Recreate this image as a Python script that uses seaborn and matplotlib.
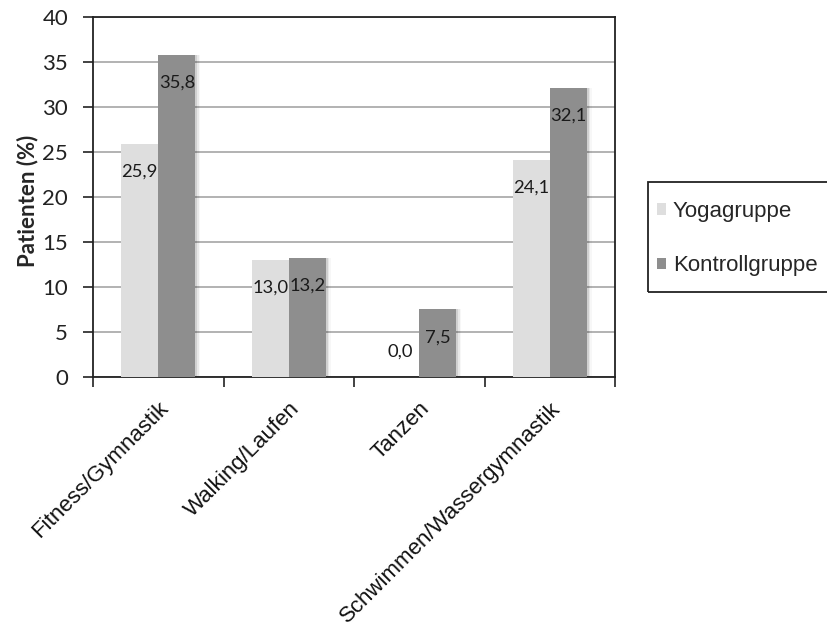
import matplotlib
matplotlib.use("Agg")
import matplotlib.pyplot as plt
from matplotlib.patches import Rectangle
import seaborn as sns
import pandas as pd

categories = ["Fitness/Gymnastik", "Walking/Laufen", "Tanzen", "Schwimmen/Wassergymnastik"]
groups = ["Yogagruppe", "Kontrollgruppe"]
yoga = [25.9, 13.0, 0.0, 24.1]
kontroll = [35.8, 13.2, 7.5, 32.1]
colors = ["#dedede", "#8e8e8e"]

df = pd.DataFrame({
    "Sportart": categories * 2,
    "Gruppe": [groups[0]] * len(categories) + [groups[1]] * len(categories),
    "Wert": yoga + kontroll,
})

sns.set_theme(style="white")
plt.rcParams["font.family"] = ["Liberation Sans", "DejaVu Sans"]

W, H = 827, 630
fig = plt.figure(figsize=(W / 100, H / 100), dpi=100)
ax = fig.add_axes([0.1125, 0.4016, 0.6312, 0.5714])

sns.barplot(data=df, x="Sportart", y="Wert", hue="Gruppe", order=categories,
            hue_order=groups, palette=colors, width=0.57, saturation=1,
            edgecolor="none", linewidth=0, ax=ax, legend=False, zorder=3)

# soft shadow to the right of each bar
for p in list(ax.patches):
    for i, a in enumerate([0.10, 0.06, 0.03]):
        off = 0.012 * (i + 1)
        ax.bar(p.get_x() + p.get_width() / 2 + off, p.get_height(), width=p.get_width(),
               color="#000000", alpha=a, zorder=2, linewidth=0)

ax.set_ylim(0, 40)
ax.set_xlim(-0.5, len(categories) - 0.5)
ax.set_yticks(range(0, 41, 5))
ax.yaxis.grid(True, color="#a6a6a6", linewidth=1.2, zorder=0)
ax.set_axisbelow(True)
for s in ax.spines.values():
    s.set_color("#222222")
    s.set_linewidth(1.3)

ax.set_xlabel("")
ax.set_ylabel("Patienten (%)", fontsize=16, fontweight="bold",
              family=["Lato", "DejaVu Sans"])
ax.yaxis.set_label_coords(-0.105, 0.49)
ax.tick_params(axis="y", which="major", direction="out", length=7, width=1.2,
               color="#222222", labelsize=16, pad=11, left=True)
for t in ax.get_yticklabels():
    t.set_family(["Lato", "DejaVu Sans"])
    t.set_color("#222222")

# category labels at centers, tick marks at category boundaries
ax.set_xticks(range(len(categories)))
ax.set_xticklabels(categories, rotation=45, ha="right", rotation_mode="anchor",
                   fontsize=16, color="#111111")
ax.tick_params(axis="x", which="major", length=0, pad=15)
ax.set_xticks([i - 0.5 for i in range(len(categories) + 1)], minor=True)
ax.tick_params(axis="x", which="minor", direction="out", length=7, width=1.2,
               color="#222222", bottom=True)

# value labels
bar_w = 0.57 / 2
for gi, vals in enumerate([yoga, kontroll]):
    for ci, v in enumerate(vals):
        x = ci - bar_w / 2 + gi * bar_w
        y = v - 3.1 if v > 3 else v + 2.8
        ax.text(x, y, f"{v:.1f}".replace(".", ","), ha="center", va="center",
                fontsize=13.2, family=["Lato", "DejaVu Sans"], color="#1a1a1a", zorder=5)

# legend entries and a separate frame that runs past the right edge
handles = [plt.Rectangle((0, 0), 1, 1, facecolor=c, edgecolor="none") for c in colors]
fig.legend(handles, groups, loc="upper left", bbox_to_anchor=(657 / W, 1 - 201 / H),
           frameon=False, fontsize=16, handlelength=0.42, handleheight=0.42,
           handletextpad=0.3, labelspacing=1.5, borderpad=0, borderaxespad=0)
fig.add_artist(Rectangle((648 / W, 1 - 292 / H), 200 / W, 110 / H,
                         transform=fig.transFigure, fill=False,
                         edgecolor="#222222", linewidth=1.3))

fig.savefig("out.png", dpi=100, facecolor="white")
